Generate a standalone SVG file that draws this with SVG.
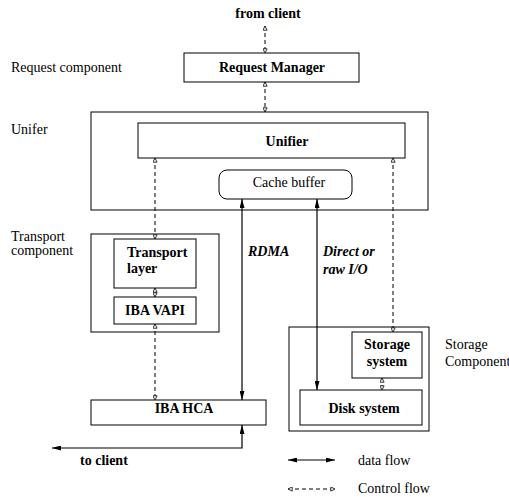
<svg xmlns="http://www.w3.org/2000/svg" width="509" height="497" viewBox="0 0 509 497">
<style>
  .box{fill:#fff;stroke:#000;stroke-width:1}
  .grp{fill:none;stroke:#000;stroke-width:1}
  .t{font-family:"Liberation Serif","Times New Roman",serif;font-size:14px;fill:#000}
  .b{font-weight:bold}
  .i{font-style:italic;font-weight:bold}
  .data{stroke:#000;stroke-width:1.2;fill:none;marker-start:url(#fa);marker-end:url(#fa)}
  .ctl{stroke:#000;stroke-width:1;fill:none;stroke-dasharray:4 3;marker-start:url(#oa);marker-end:url(#oa)}
</style>
<defs>
  <marker id="fa" viewBox="0 0 9 5" refX="9" refY="2.5" markerWidth="9" markerHeight="5" markerUnits="userSpaceOnUse" orient="auto-start-reverse">
    <path d="M0,0 L9,2.5 L0,5 z" fill="#000"/>
  </marker>
  <marker id="oa" viewBox="0 0 5 5" refX="4.6" refY="2.5" markerWidth="5" markerHeight="5" markerUnits="userSpaceOnUse" orient="auto-start-reverse">
    <path d="M0.4,0.4 L4.6,2.5 L0.4,4.6 z" fill="#fff" stroke="#000" stroke-width="0.8"/>
  </marker>
</defs>

<g id="labels">
  <text class="t b" x="268" y="18" text-anchor="middle">from client</text>
  <text class="t" x="11" y="72">Request component</text>
  <text class="t" x="11" y="134">Unifer</text>
  <text class="t" x="11" y="241">Transport</text>
  <text class="t" x="11" y="255">component</text>
  <text class="t" x="445" y="349">Storage</text>
  <text class="t" x="445" y="366">Component</text>
  <text class="t i" x="248" y="256">RDMA</text>
  <text class="t i" x="323" y="256">Direct or</text>
  <text class="t i" x="323" y="274">raw I/O</text>
  <text class="t b" x="80" y="465">to client</text>
</g>

<g id="request-manager">
  <rect class="box" x="184" y="53" width="175" height="29"/>
  <text class="t b" x="272" y="72" text-anchor="middle">Request Manager</text>
</g>

<g id="unifer-group">
  <rect class="grp" x="91" y="112" width="337" height="98"/>
</g>
<g id="unifier">
  <rect class="box" x="138" y="123" width="267" height="35"/>
  <text class="t b" x="287" y="146" text-anchor="middle">Unifier</text>
</g>
<g id="cache-buffer">
  <rect class="box" x="219" y="170" width="133" height="29" rx="8" ry="8"/>
  <text class="t" x="289" y="187" text-anchor="middle">Cache buffer</text>
</g>

<g id="transport-group">
  <rect class="grp" x="91" y="234" width="128" height="98"/>
</g>
<g id="transport-layer">
  <rect class="box" x="114" y="239" width="82" height="49"/>
  <text class="t b" x="127" y="257">Transport</text>
  <text class="t b" x="127" y="273">layer</text>
</g>
<g id="iba-vapi">
  <rect class="box" x="114" y="297" width="82" height="27"/>
  <text class="t b" x="155" y="315" text-anchor="middle">IBA VAPI</text>
</g>
<g id="iba-hca">
  <rect class="box" x="91" y="400" width="175" height="25"/>
  <text class="t b" x="184" y="413" text-anchor="middle">IBA HCA</text>
</g>

<g id="storage-group">
  <rect class="grp" x="289" y="327" width="140" height="104"/>
</g>
<g id="storage-system">
  <rect class="box" x="352" y="332" width="70" height="46"/>
  <text class="t b" x="387" y="349" text-anchor="middle">Storage</text>
  <text class="t b" x="387" y="366" text-anchor="middle">system</text>
</g>
<g id="disk-system">
  <rect class="box" x="300" y="390" width="122" height="35"/>
  <text class="t b" x="364" y="413" text-anchor="middle">Disk system</text>
</g>

<g id="connectors">
  <line class="ctl" x1="265" y1="26" x2="265" y2="53"/>
  <line class="ctl" x1="265" y1="82" x2="265" y2="112"/>
  <line class="ctl" x1="155" y1="158" x2="155" y2="239"/>
  <line class="ctl" x1="155" y1="288" x2="155" y2="297"/>
  <line class="ctl" x1="155" y1="324" x2="155" y2="400"/>
  <line class="ctl" x1="393" y1="158" x2="393" y2="332"/>
  <line class="ctl" x1="382" y1="378" x2="382" y2="390"/>
  <line class="data" x1="242" y1="199" x2="242" y2="400"/>
  <line class="data" x1="317" y1="199" x2="317" y2="390"/>
  <polyline class="data" points="242,425 242,448 52,448"/>
</g>

<g id="legend">
  <line class="data" x1="288" y1="460" x2="335" y2="460"/>
  <text class="t" x="358" y="465">data flow</text>
  <line class="ctl" x1="288" y1="489" x2="335" y2="489"/>
  <text class="t" x="358" y="493">Control flow</text>
</g>
</svg>
